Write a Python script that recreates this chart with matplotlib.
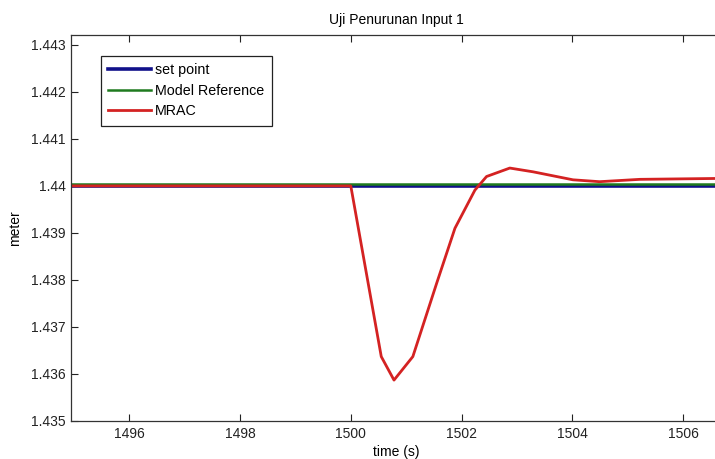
import matplotlib
matplotlib.use("Agg")
import matplotlib.pyplot as plt

plt.rcParams["font.family"] = ["Liberation Sans", "DejaVu Sans"]

# waktu (s) dan respon MRAC
waktu_mrac = [1494.95, 1500.0, 1500.55, 1500.78, 1501.12, 1501.55, 1501.88,
              1502.24, 1502.45, 1502.87, 1503.29, 1504.01, 1504.49, 1505.22,
              1506.7]
posisi_mrac = [1.44, 1.44, 1.43637, 1.43587, 1.43637, 1.43793, 1.43910,
               1.43991, 1.44020, 1.44038, 1.44030, 1.44013, 1.44009, 1.44014,
               1.44016]

waktu_ref = [1494.95, 1506.7]
posisi_setpoint = [1.44, 1.44]
posisi_model = [1.44004, 1.44004]

xticks = [1496, 1498, 1500, 1502, 1504, 1506]
yticks = [1.435, 1.436, 1.437, 1.438, 1.439, 1.44, 1.441, 1.442, 1.443]
ytick_labels = ["1.435", "1.436", "1.437", "1.438", "1.439", "1.44",
                "1.441", "1.442", "1.443"]

fig = plt.figure(figsize=(7.15, 4.59), dpi=100)
ax = fig.add_axes([71 / 715, 38 / 459, 651 / 715, 386 / 459])

ax.plot(waktu_ref, posisi_setpoint, color="#10108a", lw=2.6, label="set point")
ax.plot(waktu_ref, posisi_model, color="#1f7a1f", lw=1.8, label="Model Reference")
ax.plot(waktu_mrac, posisi_mrac, color="#d42222", lw=2.0, label="MRAC")

ax.set_xlim(1494.95, 1506.7)
ax.set_ylim(1.435, 1.44321)
ax.set_xticks(xticks)
ax.set_yticks(yticks)
ax.set_yticklabels(ytick_labels)
ax.tick_params(direction="in", length=5, width=0.8, labelsize=10,
               top=True, right=False, pad=4, colors="#222222")
for s in ax.spines.values():
    s.set_color("#333333")
    s.set_linewidth(0.9)
ax.spines["right"].set_visible(False)  # terpotong di gambar asli

ax.set_title("Uji Penurunan Input 1", fontsize=10, pad=8)
ax.set_xlabel("time (s)", fontsize=10, labelpad=3)
ax.set_ylabel("meter", fontsize=10, labelpad=6)

leg = ax.legend(loc="upper left", bbox_to_anchor=(0.046, 0.946), fontsize=10.3,
                fancybox=False, framealpha=1, edgecolor="#222222",
                handlelength=3.0, handletextpad=0.3, labelspacing=0.47,
                borderpad=0.5, borderaxespad=0)
leg.get_frame().set_linewidth(0.9)

fig.savefig("out.png", dpi=100)
